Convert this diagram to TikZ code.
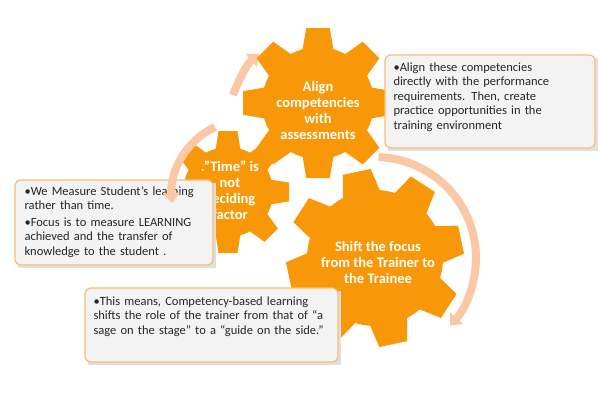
\documentclass[tikz,border=0pt]{standalone}
\usepackage{fontspec}
\setmainfont{Carlito}
\usetikzlibrary{arrows.meta,calc}
\hyphenpenalty=10000
\exhyphenpenalty=10000
\definecolor{gearor}{RGB}{248,152,8}
\definecolor{peach}{RGB}{250,200,165}
\definecolor{boxfill}{RGB}{243,243,243}
\definecolor{boxline}{RGB}{247,190,110}
\tikzset{
 textbox/.style={draw=boxline, line width=1.2pt, fill=boxfill, rounded corners=6pt, inner sep=0pt},
 boxtext/.style={anchor=north west, align=left, font=\fontsize{12.5}{14.5}\selectfont, text=black!85},
 geartext/.style={align=center, text=white, font=\bfseries\fontsize{14.5}{16}\selectfont},
 flowarrow/.style={peach, line width=8pt, -{Triangle[width=17pt,length=10pt]}}
}
\newcommand{\mygear}[4]{% center, inner r, outer R, rotation
 \fill[gearor] (#1) circle (#2);
 \foreach \a in {0,45,...,315}{
  \fill[gearor, shift={(#1)}, rotate=\a+#4] (-#2*0.28,#2-4) -- (-#2*0.21,#3) -- (#2*0.21,#3) -- (#2*0.28,#2-4) -- cycle;
 }}
\begin{document}
\begin{tikzpicture}[x=1pt,y=-1pt]
\useasboundingbox (0,0) rectangle (600,400);
\coordinate (gs) at (228,192);
\coordinate (gt) at (318,103);
\coordinate (gb) at (375,258);
% arcs
\draw[flowarrow] (233,95) .. controls (240,77) and (247,64) .. (259,54);
\draw[flowarrow] ($(gb)+(-88:101)$) arc[start angle=-88,end angle=42,radius=101];
% gears
\mygear{gt}{56}{75}{0}
\mygear{gb}{68}{88}{12}
\mygear{gs}{45}{61}{0}
\node[geartext] (ts) at (230,190) {."Time" is\\not\\deciding\\factor};
\node[geartext] (tt) at (318,110) {Align\\competencies\\with\\assessments};
\node[geartext] (tb) at (378,262) {Shift the focus\\from the Trainer to\\the Trainee};
% boxes
\fill[black!12] (88,291) rectangle (341,365);
\draw[textbox] (85,288) rectangle (338,362);
\node[boxtext, text width=232pt] (b2) at (90,293) {•This means, Competency-based learning shifts the role of the trainer from that of “a sage on the stage” to a “guide on the side.”};
\fill[black!12] (18,183) rectangle (216,268);
\draw[textbox] (15,180) rectangle (213,265);
\node[boxtext, text width=185pt] (b1) at (21,183) {•We Measure Student’s learning rather than time.\\[2pt]•Focus is to measure LEARNING achieved and the transfer of knowledge to the student .};
\draw[flowarrow] (215,127) .. controls (187,140) and (170,170) .. (172,203);
\fill[black!12] (388,58) rectangle (598,151);
\draw[textbox] (385,55) rectangle (595,148);
\node[boxtext, text width=180pt] (b3) at (390,59) {•Align these competencies directly with the performance requirements. Then, create practice opportunities in the training environment};
\end{tikzpicture}
\end{document}
